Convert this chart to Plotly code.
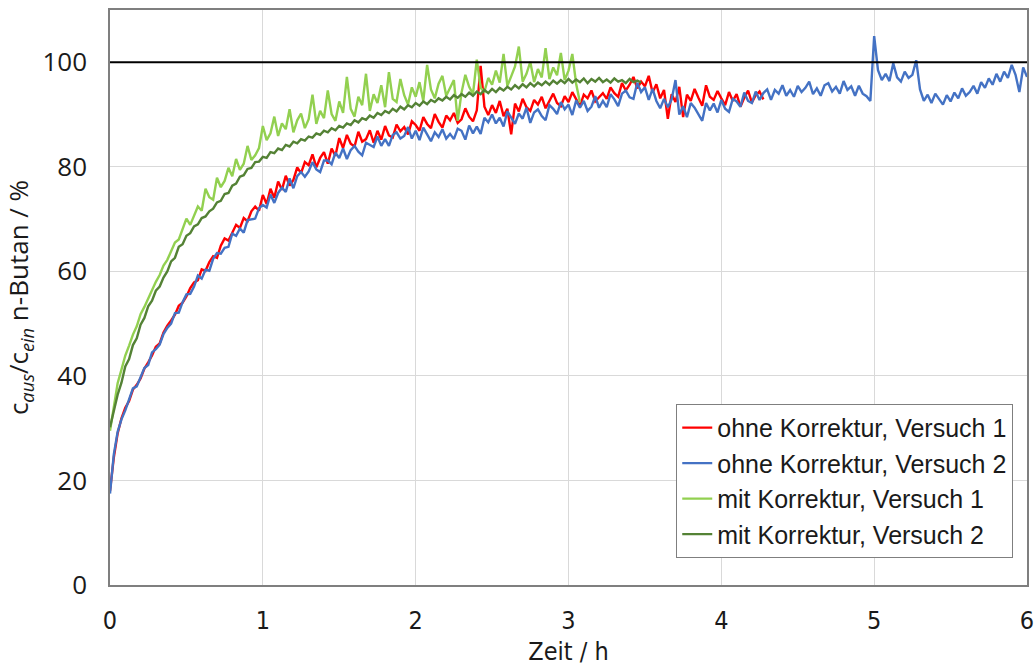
import numpy as np
import plotly.graph_objects as go

dt = 0.025  # sampling interval in hours

names = ["ohne Korrektur, Versuch 1", "ohne Korrektur, Versuch 2",
         "mit Korrektur, Versuch 1", "mit Korrektur, Versuch 2"]
colors = ["#FF0000", "#4472C4", "#92D050", "#548235"]

ohne_v1 = [
    18.0, 24.4, 29.0, 31.9, 33.9, 35.2, 37.4, 38.3, 39.5, 41.4,
    42.6, 43.9, 45.6, 46.2, 48.3, 49.6, 50.6, 51.7, 53.4, 54.0,
    55.2, 56.8, 57.9, 58.3, 60.4, 60.1, 61.8, 62.9, 62.6, 64.9,
    66.3, 65.9, 67.4, 68.9, 68.3, 70.2, 69.6, 71.5, 72.4, 71.6,
    74.6, 72.9, 75.8, 74.1, 77.2, 75.6, 78.3, 76.4, 77.5, 79.9,
    78.8, 80.9, 80.3, 82.4, 79.9, 81.7, 82.8, 80.6, 83.5, 82.1,
    85.5, 83.6, 86.1, 84.4, 83.9, 86.7, 84.8, 85.3, 87.0, 84.6,
    86.9, 85.2, 87.8, 86.0, 85.6, 88.1, 86.8, 87.6, 86.2, 88.7,
    88.0, 86.9, 89.5, 88.2, 87.4, 90.1, 88.6, 87.5, 89.8, 88.9,
    90.3, 88.4, 89.1, 91.2, 89.6, 88.7, 90.8, 99.3, 91.5, 89.9,
    91.8, 90.3, 92.6, 89.7, 91.1, 86.2, 92.1, 90.6, 93.0, 91.4,
    90.7, 92.8, 91.9, 93.4, 91.2, 92.5, 94.0, 92.2, 91.6, 93.5,
    92.4, 94.3, 92.9, 91.6, 93.8, 93.1, 94.6, 92.5, 93.3, 94.1,
    93.0, 95.2, 94.1, 93.4, 96.0, 94.6, 95.7, 97.2, 95.0, 96.3,
    95.4, 97.4, 94.2, 95.8, 93.1, 94.7, 89.2, 93.9, 92.4, 95.3,
    89.5, 93.8, 92.6, 94.9, 93.2, 91.7, 95.6, 93.4, 92.8, 94.5,
    93.1, 91.8, 94.3, 92.6, 93.9, 91.5, 93.2, 94.6, 92.3, 93.7,
    94.4, 92.9,
]

ohne_v2 = [
    17.5, 25.0, 29.3, 31.7, 33.4, 35.5, 37.6, 38.0, 39.8, 41.5,
    42.1, 44.5, 45.1, 46.0, 48.0, 49.2, 50.0, 52.0, 52.1, 54.1,
    55.6, 55.7, 57.1, 59.2, 58.6, 60.3, 60.1, 62.4, 63.5, 63.4,
    64.5, 64.7, 67.2, 66.8, 68.2, 67.4, 69.8, 70.0, 70.1, 72.1,
    72.7, 72.2, 74.7, 73.1, 75.0, 76.0, 75.2, 77.8, 75.9, 78.2,
    79.0, 78.1, 79.1, 80.9, 79.5, 79.0, 81.2, 81.2, 80.5, 82.7,
    81.7, 83.5, 81.5, 83.2, 84.0, 82.9, 82.2, 84.6, 84.2, 83.8,
    85.8, 84.0, 85.3, 84.0, 86.1, 86.6, 85.4, 85.9, 87.6, 85.4,
    86.9, 85.1, 87.5, 86.3, 84.9, 86.6, 85.7, 87.2, 85.4, 86.3,
    85.3, 87.3, 86.9, 85.2, 87.9, 86.4, 87.7, 86.3, 89.4, 88.5,
    90.0, 88.3, 89.4, 87.7, 90.6, 89.4, 88.2, 90.2, 89.2, 91.3,
    88.4, 90.4, 91.0, 89.7, 88.9, 91.8, 91.1, 90.1, 92.4, 91.0,
    91.9, 89.9, 92.7, 91.3, 92.6, 90.7, 91.5, 93.5, 91.3, 92.6,
    91.4, 93.9, 92.9, 91.6, 94.0, 94.6, 93.3, 93.0, 96.1, 94.3,
    95.2, 92.8, 94.9, 92.6, 91.2, 93.0, 91.4, 92.9, 96.6, 90.0,
    91.6, 89.5, 92.2, 91.3, 90.1, 88.8, 92.2, 90.8, 92.1, 90.4,
    92.8, 91.1, 90.5, 93.0, 92.5, 91.5, 94.2, 92.6, 92.2, 94.4,
    92.8, 94.1, 94.8, 92.8, 94.7, 94.0, 95.6, 93.6, 94.7, 93.4,
    95.5, 94.3, 95.1, 96.3, 93.9, 95.0, 93.6, 95.6, 96.0, 94.4,
    95.3, 94.0, 96.4, 94.7, 95.4, 93.6, 95.5, 94.0, 93.5, 92.6,
    105.0, 98.5, 96.6, 97.8, 96.4, 99.8, 97.1, 96.3, 98.2, 97.0,
    97.6, 100.4, 94.8, 92.6, 93.8, 92.2, 94.0, 92.9, 91.9, 93.7,
    92.5, 94.2, 93.1, 95.0, 93.6, 94.3, 95.5, 94.0, 96.2, 95.1,
    96.9, 95.7, 97.8, 96.3, 98.2, 97.0, 99.5, 97.6, 94.3, 99.0,
    97.2,
]

mit_v1 = [
    29.5, 34.4, 38.6, 41.2, 43.9, 45.8, 47.9, 49.5, 51.8, 53.2,
    54.9, 56.4, 58.0, 59.3, 61.1, 62.2, 64.0, 65.5, 66.1, 68.0,
    70.1, 68.9, 70.6, 72.4, 71.6, 75.8, 74.2, 73.7, 77.9, 76.1,
    77.3, 79.8, 78.2, 81.5, 79.4, 80.6, 84.0, 81.3, 82.2, 83.6,
    87.8, 85.1, 86.4, 89.6, 85.9, 88.3, 87.2, 91.0, 86.6, 88.9,
    90.2, 87.4, 89.1, 93.8, 88.2, 90.7, 89.3, 94.6, 90.1, 88.8,
    92.5, 90.3, 97.2, 91.1, 89.6, 93.4, 91.8, 97.8, 90.7, 93.9,
    92.2, 95.6, 91.4, 98.1, 93.0, 92.4, 96.8, 93.7, 91.9, 95.2,
    93.4, 96.2, 92.6, 99.5, 94.8, 93.1, 95.9, 97.4, 93.6, 95.0,
    96.6, 88.8, 94.2, 97.6, 95.3, 93.9, 100.5, 95.1, 94.4, 97.0,
    95.7, 98.4, 96.1, 101.6, 95.5, 97.3, 99.2, 103.0, 96.3, 97.8,
    100.1, 96.2, 98.7, 97.1, 102.7, 96.8, 99.0, 97.5, 101.8, 96.6,
    98.4, 101.6, 95.9, 92.3,
]

mit_v2 = [
    30.2, 33.3, 36.4, 38.7, 41.8, 43.2, 45.9, 47.2, 49.8, 51.1,
    53.3, 54.4, 56.3, 57.1, 58.8, 60.0, 61.9, 62.6, 64.7, 65.2,
    66.8, 67.3, 68.6, 69.0, 70.2, 70.5, 71.5, 72.0, 73.2, 73.5,
    74.8, 75.0, 76.4, 76.8, 78.1, 78.4, 79.6, 79.8, 80.9, 81.0,
    81.9, 81.7, 82.8, 82.6, 83.5, 83.2, 84.2, 83.9, 84.8, 84.5,
    85.3, 85.0, 85.8, 85.6, 86.4, 86.1, 86.9, 86.6, 87.4, 87.0,
    87.8, 87.5, 88.3, 88.0, 88.9, 88.5, 89.3, 89.0, 89.8, 89.4,
    90.3, 89.9, 90.7, 90.3, 91.1, 90.6, 91.5, 91.0, 91.8, 91.4,
    92.2, 91.7, 92.5, 92.0, 92.8, 92.4, 93.1, 92.7, 93.4, 92.9,
    93.7, 93.2, 93.9, 93.4, 94.2, 93.6, 94.4, 93.9, 94.7, 94.1,
    94.9, 94.3, 95.1, 94.6, 95.3, 94.8, 95.6, 95.0, 95.8, 95.2,
    96.0, 95.4, 96.1, 95.6, 96.3, 95.7, 96.5, 95.9, 96.6, 96.0,
    96.8, 96.1, 96.7, 96.2, 96.9, 96.0, 96.8, 96.3, 97.0, 96.2,
    96.7, 96.1, 96.9, 96.3, 96.6, 96.0, 96.8, 96.2, 96.5, 96.1,
]

series = [ohne_v1, ohne_v2, mit_v1, mit_v2]

x_ticks = [0, 1, 2, 3, 4, 5, 6]
y_ticks = [0, 20, 40, 60, 80, 100]
ref_level = 100

fig = go.Figure()
for i, (name, col, ys) in enumerate(zip(names, colors, series)):
    t = np.arange(len(ys)) * dt
    fig.add_trace(go.Scatter(
        x=t, y=ys, mode="lines", name=name,
        line=dict(color=col, width=2.4),
        legendgroup=f"g{i}",
    ))

fig.add_hline(y=ref_level, line=dict(color="black", width=2), layer="above")

axis_common = dict(
    showline=True, linecolor="#7f7f7f", linewidth=1.5, mirror=True,
    showgrid=True, gridcolor="#d9d9d9", gridwidth=1.2,
    zeroline=False, ticks="", automargin=False,
)

fig.update_layout(
    width=1036, height=666,
    margin=dict(l=110, r=9, t=10, b=81),
    paper_bgcolor="white", plot_bgcolor="white",
    showlegend=True,
    legend=dict(
        x=0.985, y=0.315, xanchor="right", yanchor="top",
        bgcolor="white", bordercolor="#7f7f7f", borderwidth=1,
        font=dict(family="Liberation Sans, Arial", size=25, color="#1a1a1a"),
        tracegroupgap=0, traceorder="grouped",
    ),
    xaxis=dict(
        range=[0, 6], tickvals=x_ticks, ticktext=[str(v) for v in x_ticks],
        ticklabelstandoff=12,
        tickfont=dict(family="DejaVu Sans Condensed, Open Sans", size=25, color="#1a1a1a"),
        title=dict(text="Zeit / h", font=dict(family="DejaVu Sans Condensed, Open Sans", size=25, color="#1a1a1a"), standoff=10),
        **axis_common,
    ),
    yaxis=dict(
        range=[0, 110], tickvals=y_ticks, ticktext=[str(v) for v in y_ticks],
        ticklabelstandoff=16,
        tickfont=dict(family="Open Sans", size=26, color="#1a1a1a"),
        title=dict(text="c<sub><i>aus</i></sub>/c<sub><i>ein</i></sub> n-Butan / %",
                   font=dict(family="Open Sans", size=26, color="#1a1a1a"), standoff=6),
        **axis_common,
    ),
)

fig.write_html("out.html")
